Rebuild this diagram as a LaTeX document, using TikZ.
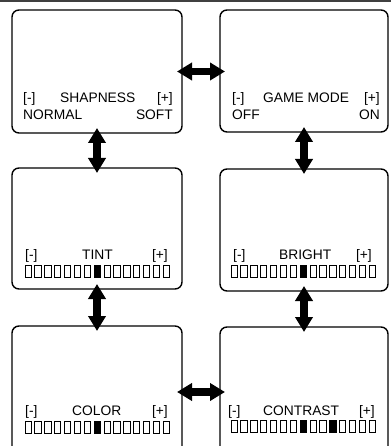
\documentclass[tikz,border=0pt]{standalone}
\usepackage{fontspec}
\setmainfont{Liberation Sans}
\usetikzlibrary{arrows.meta}
\begin{document}
\begin{tikzpicture}[x=1pt,y=-1pt,
  box/.style={draw, line width=1.4pt, rounded corners=7pt, inner sep=0pt, outer sep=0pt},
  lbl/.style={inner sep=0pt, font=\fontsize{13.8}{16}\selectfont},
  dar/.style={line width=7.5pt, {Triangle[width=17pt,length=15pt]}-{Triangle[width=17pt,length=15pt]}, shorten <=-5pt, shorten >=-5pt},
  cell/.style={line width=0.9pt}]
\useasboundingbox (0,0) rectangle (391,446);
\draw[line width=1.5pt, black!75] (0,1) -- (391,1);
% boxes
\node[box, minimum width=170pt, minimum height=123pt] (tl) at (97,71.5) {};
\node[box, minimum width=168pt, minimum height=122pt] (tr) at (304,71) {};
\node[box, minimum width=170pt, minimum height=121pt] (ml) at (97,228.5) {};
\node[box, minimum width=168pt, minimum height=122pt] (mr) at (304,230) {};
\node[box, minimum width=170pt, minimum height=132pt] (bl) at (97,392) {};
\node[box, minimum width=168pt, minimum height=131pt] (br) at (304,392.5) {};
% arrows
\draw[dar] (tl.east) -- (tl.east -| tr.west);
\draw[dar] (bl.east) -- (bl.east -| br.west);
\draw[dar] (tl.south) -- (tl.south |- ml.north);
\draw[dar] (ml.south) -- (ml.south |- bl.north);
\draw[dar] (tr.south) -- (tr.south |- mr.north);
\draw[dar] (mr.south) -- (mr.south |- br.north);
% top-left labels
\node[lbl, anchor=base west] (tla) at (23,103) {[-]};
\node[lbl, anchor=base west] (tlb) at (60,103) {SHAPNESS};
\node[lbl, anchor=base east] (tlc) at (173,103) {[+]};
\node[lbl, anchor=base west] (tld) at (23,120) {NORMAL};
\node[lbl, anchor=base east] (tle) at (173,120) {SOFT};
% top-right labels
\node[lbl, anchor=base west] (tra) at (232,103) {[-]};
\node[lbl, anchor=base west] (trb) at (263,103) {GAME MODE};
\node[lbl, anchor=base east] (trc) at (380,103) {[+]};
\node[lbl, anchor=base west] (trd) at (232,120) {OFF};
\node[lbl, anchor=base east] (tre) at (380,120) {ON};
% middle-left
\node[lbl, anchor=base west] (mla) at (25,259) {[-]};
\node[lbl, anchor=base west] (mlb) at (82,259) {TINT};
\node[lbl, anchor=base east] (mlc) at (168,259) {[+]};
\foreach \i in {0,...,14} \draw[cell] ({25+\i*9.87},265) rectangle ++(6.3,12);
\fill ({25+7*9.87},265) rectangle ++(6.3,12);
% middle-right
\node[lbl, anchor=base west] (mra) at (233,259.5) {[-]};
\node[lbl, anchor=base west] (mrb) at (279,259.5) {BRIGHT};
\node[lbl, anchor=base east] (mrc) at (372,259.5) {[+]};
\foreach \i in {0,...,14} \draw[cell] ({231+\i*9.87},265.5) rectangle ++(6.3,12);
\fill ({231+7*9.87},265.5) rectangle ++(6.3,12);
% bottom-left
\node[lbl, anchor=base west] (bla) at (25,415) {[-]};
\node[lbl, anchor=base west] (blb) at (72,415) {COLOR};
\node[lbl, anchor=base east] (blc) at (168,415) {[+]};
\foreach \i in {0,...,14} \draw[cell] ({25+\i*9.87},421) rectangle ++(6.3,12);
\fill ({25+7*9.87},421) rectangle ++(6.3,12);
% bottom-right
\node[lbl, anchor=base west] (bra) at (228,415) {[-]};
\node[lbl, anchor=base west] (brb) at (263,415) {CONTRAST};
\node[lbl, anchor=base east] (brc) at (375,415) {[+]};
\foreach \i in {0,...,14} \draw[cell] ({231+\i*9.87},420.5) rectangle ++(6.3,12);
\fill ({231+7*9.87},420.5) rectangle ++(6.3,12);
\fill ({231+10*9.87},420.5) rectangle ++(6.3,12);
\end{tikzpicture}
\end{document}
